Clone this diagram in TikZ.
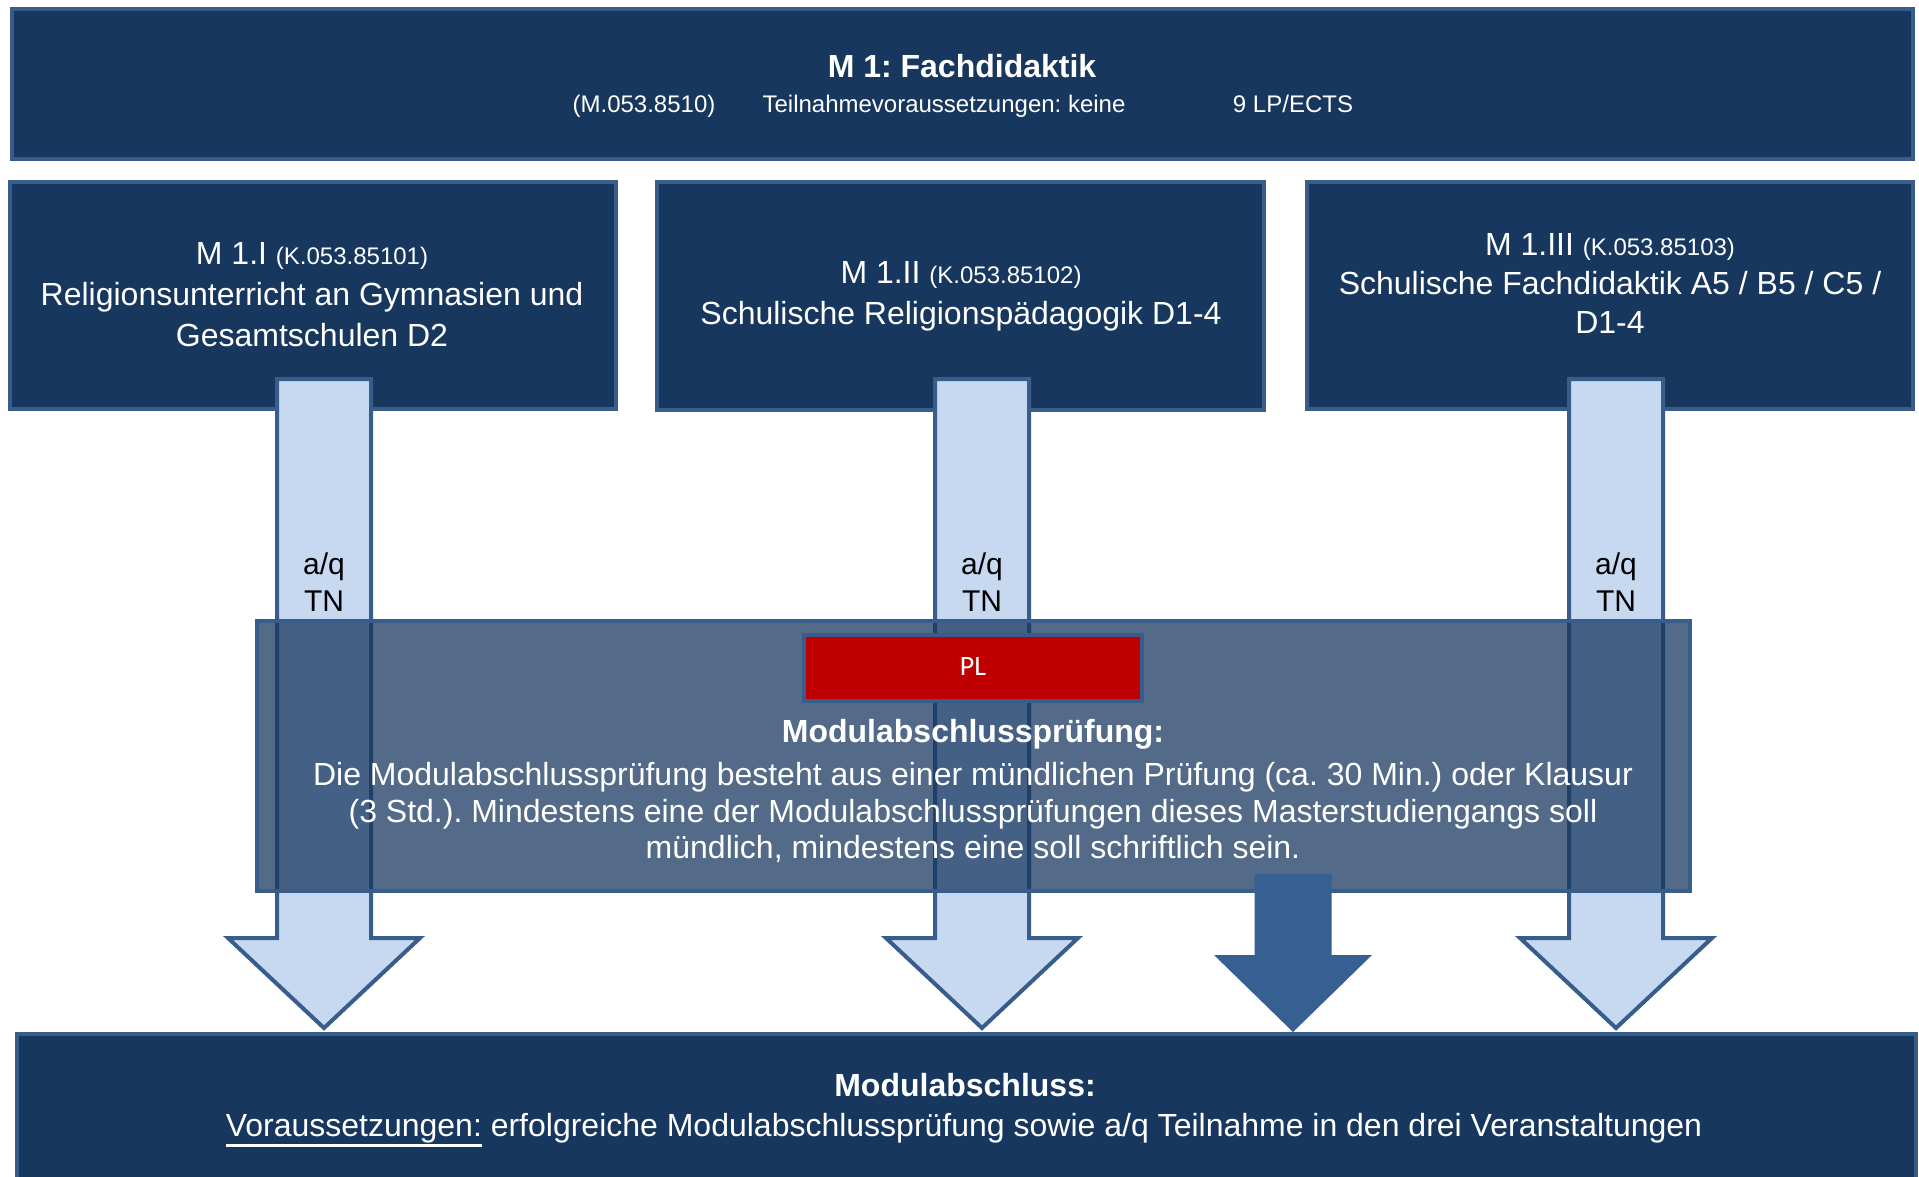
\documentclass[tikz,border=0pt]{standalone}
\usepackage{fontspec}
\setmainfont{Liberation Sans}
\newfontfamily\plfont{Carlito}
\definecolor{navy}{HTML}{17375E}
\definecolor{bord}{HTML}{385D8A}
\definecolor{lightb}{HTML}{C6D9F1}
\definecolor{darkarr}{HTML}{376092}
\definecolor{plred}{HTML}{C00000}
\frenchspacing
\newcommand{\myblockarrow}[7]{%
  \draw[#1] (#2-#3,#5) -- (#2+#3,#5) -- (#2+#3,#6) -- (#2+#4,#6) -- (#2,#7)
    -- (#2-#4,#6) -- (#2-#3,#6) -- cycle;}
\newcommand{\myul}[1]{\setbox0\hbox{#1}\rlap{\rule[-10pt]{\wd0}{2.6pt}}#1}
\tikzset{
  navybox/.style={fill=navy, draw=bord, line width=4pt, inner sep=0pt},
  lightarr/.style={fill=lightb, draw=bord, line width=4pt, line join=miter},
  darkarrow/.style={fill=darkarr, draw=none},
  overlaybox/.style={fill=navy, fill opacity=0.74, draw=bord, draw opacity=1, line width=4pt, inner sep=0pt},
  plbox/.style={fill=plred, draw=bord, line width=4pt, inner sep=0pt},
  wtxt/.style={text=white, align=center, inner sep=0pt},
  btxt/.style={text=black, align=center, inner sep=0pt},
  big/.style={font=\fontsize{32}{41}\selectfont},
  sub/.style={font=\fontsize{24}{29}\selectfont, anchor=base},
}
\begin{document}
\begin{tikzpicture}[x=1pt,y=-1pt]
\useasboundingbox (0,0) rectangle (1919,1177);
% top box
\node[navybox, minimum width=1901, minimum height=150] (top) at (962.5,84) {};
\node[wtxt, font=\bfseries\fontsize{32}{38}\selectfont] (title) at (962,66) {M 1: Fachdidaktik};
\node[wtxt, sub] (code) at (644,113) {(M.053.8510)};
\node[wtxt, sub] (tnv) at (944,113) {Teilnahmevoraussetzungen: keine};
\node[wtxt, sub] (lp) at (1293,113) {9 LP/ECTS};
% three course boxes
\node[navybox, minimum width=606, minimum height=227] (b1) at (313,295.5) {};
\node[navybox, minimum width=607, minimum height=228] (b2) at (960.5,296) {};
\node[navybox, minimum width=606, minimum height=227] (b3) at (1610,295.5) {};
\node[wtxt, big] (t1) at (312,294.5) {M 1.I {\fontsize{24}{29}\selectfont (K.053.85101)}\\Religionsunterricht an Gymnasien und\\Gesamtschulen D2};
\node[wtxt, big] (t2) at (961,296.5) {M 1.II {\fontsize{24}{29}\selectfont (K.053.85102)}\\Schulische Religionspädagogik D1-4};
\node[wtxt, big, font=\fontsize{32}{39}\selectfont] (t3) at (1610,283) {M 1.III {\fontsize{24}{29}\selectfont (K.053.85103)}\\Schulische Fachdidaktik A5 / B5 / C5 /\\D1-4};
% bottom box
\node[navybox, minimum width=1899, minimum height=170, anchor=north west] (bot) at (15,1032) {};
% light block arrows
\myblockarrow{lightarr}{324}{47}{96}{379}{938}{1028}
\myblockarrow{lightarr}{982}{47}{96}{379}{938}{1028}
\myblockarrow{lightarr}{1616}{47}{96}{379}{938}{1028}
\node[btxt, font=\fontsize{30}{37}\selectfont] (l1) at (324,582) {a/q\\TN};
\node[btxt, font=\fontsize{30}{37}\selectfont] (l2) at (982,582) {a/q\\TN};
\node[btxt, font=\fontsize{30}{37}\selectfont] (l3) at (1616,582) {a/q\\TN};
% overlay exam box
\node[overlaybox, minimum width=1433, minimum height=270] (exam) at (973.5,756) {};
\node[plbox, minimum width=338, minimum height=66] (pl) at (973,668) {};
\node[text=white, inner sep=0pt, font=\plfont\fontsize{28}{32}\selectfont] (pltxt) at (973,667) {PL};
\node[wtxt, font=\bfseries\fontsize{32}{38}\selectfont] (examh) at (973,734.5) {Modulabschlussprüfung:};
\node[wtxt, font=\fontsize{32}{36.5}\selectfont] (examt) at (973,812.5) {Die Modulabschlussprüfung besteht aus einer mündlichen Prüfung (ca. 30 Min.) oder Klausur\\(3 Std.). Mindestens eine der Modulabschlussprüfungen dieses Masterstudiengangs soll\\mündlich, mindestens eine soll schriftlich sein.};
% dark arrow
\myblockarrow{darkarrow}{1293}{38.5}{79}{874}{955}{1032}
% bottom texts
\node[wtxt, font=\bfseries\fontsize{32}{38}\selectfont] (both) at (965,1085) {Modulabschluss:};
\node[wtxt, big] (bott) at (964,1130) {\myul{Voraussetzungen:} erfolgreiche Modulabschlussprüfung sowie a/q Teilnahme in den drei Veranstaltungen};
\end{tikzpicture}
\end{document}
